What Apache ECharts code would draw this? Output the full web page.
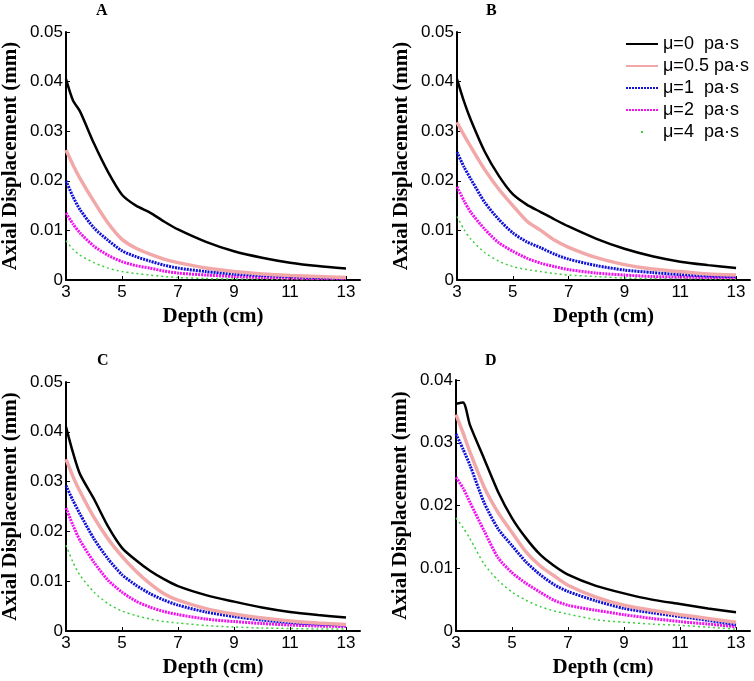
<!DOCTYPE html>
<html>
<head>
<meta charset="utf-8">
<script src="https://cdn.jsdelivr.net/npm/echarts@6/dist/echarts.min.js"></script>
<style>
html,body{margin:0;padding:0;background:#fff;}
#main{width:754px;height:681px;}
</style>
</head>
<body>
<div id="main"></div>
<script>
// depth samples (cm)
var depth = [3, 3.25, 3.5, 4, 4.5, 5, 5.5, 6, 6.5, 7, 8, 9, 10, 11, 12, 13];
var muNames = ['μ=0  pa·s', 'μ=0.5 pa·s', 'μ=1  pa·s', 'μ=2  pa·s', 'μ=4  pa·s'];
var panelLetters = ['A', 'B', 'C', 'D'];
var yMax = [0.05, 0.05, 0.05, 0.04];
var xTicks = [3, 5, 7, 9, 11, 13];

// panel A
var aMu0 = [0.0405, 0.0362, 0.0340, 0.0275, 0.0218, 0.0172, 0.0150, 0.0136, 0.0118, 0.0102, 0.0077, 0.0058, 0.0045, 0.0035, 0.0028, 0.0023];
var aMu05 = [0.0262, 0.0232, 0.0205, 0.0158, 0.0115, 0.0082, 0.0064, 0.0052, 0.0042, 0.0035, 0.0024, 0.0017, 0.0012, 0.0009, 0.0007, 0.0005];
var aMu1 = [0.0200, 0.0168, 0.0142, 0.0105, 0.0080, 0.0059, 0.0047, 0.0038, 0.0030, 0.0024, 0.0017, 0.0012, 0.0009, 0.0007, 0.0005, 0.0004];
var aMu2 = [0.0135, 0.0113, 0.0095, 0.0068, 0.0050, 0.0037, 0.0029, 0.0024, 0.0018, 0.0014, 0.0010, 0.0007, 0.0005, 0.0004, 0.0003, 0.0003];
var aMu4 = [0.0079, 0.0062, 0.0050, 0.0035, 0.0024, 0.0017, 0.0013, 0.0010, 0.0007, 0.0005, 0.0003, 0.0002, 0.0002, 0.0001, 0.0001, 0.0001];
// panel B
var bMu0 = [0.0405, 0.0360, 0.0322, 0.0258, 0.0210, 0.0173, 0.0152, 0.0137, 0.0122, 0.0108, 0.0083, 0.0063, 0.0048, 0.0037, 0.0030, 0.0024];
var bMu05 = [0.0318, 0.0292, 0.0268, 0.0222, 0.0183, 0.0150, 0.0119, 0.0100, 0.0080, 0.0066, 0.0045, 0.0031, 0.0022, 0.0017, 0.0012, 0.0010];
var bMu1 = [0.0258, 0.0228, 0.0203, 0.0156, 0.0122, 0.0095, 0.0077, 0.0065, 0.0052, 0.0042, 0.0029, 0.0020, 0.0015, 0.0011, 0.0008, 0.0007];
var bMu2 = [0.0188, 0.0160, 0.0136, 0.0102, 0.0075, 0.0058, 0.0044, 0.0034, 0.0027, 0.0021, 0.0014, 0.0010, 0.0007, 0.0006, 0.0005, 0.0005];
var bMu4 = [0.0128, 0.0102, 0.0082, 0.0055, 0.0038, 0.0027, 0.0021, 0.0017, 0.0013, 0.0010, 0.0007, 0.0004, 0.0003, 0.0003, 0.0002, 0.0002];
// panel C
var cMu0 = [0.0410, 0.0358, 0.0315, 0.0265, 0.0210, 0.0167, 0.0142, 0.0121, 0.0104, 0.0090, 0.0072, 0.0059, 0.0047, 0.0038, 0.0032, 0.0027];
var cMu05 = [0.0345, 0.0310, 0.0280, 0.0228, 0.0185, 0.0150, 0.0120, 0.0095, 0.0075, 0.0062, 0.0045, 0.0034, 0.0026, 0.0020, 0.0016, 0.0013];
var cMu1 = [0.0292, 0.0262, 0.0235, 0.0185, 0.0145, 0.0113, 0.0092, 0.0075, 0.0062, 0.0052, 0.0038, 0.0029, 0.0022, 0.0017, 0.0014, 0.0012];
var cMu2 = [0.0247, 0.0212, 0.0182, 0.0138, 0.0102, 0.0078, 0.0060, 0.0048, 0.0039, 0.0033, 0.0024, 0.0019, 0.0015, 0.0012, 0.0010, 0.0009];
var cMu4 = [0.0172, 0.0138, 0.0112, 0.0078, 0.0055, 0.0040, 0.0031, 0.0024, 0.0019, 0.0016, 0.0011, 0.0008, 0.0006, 0.0005, 0.0004, 0.0004];
// panel D
var dMu0 = [0.0362, 0.0364, 0.0328, 0.0275, 0.0222, 0.0180, 0.0148, 0.0122, 0.0104, 0.0090, 0.0072, 0.0060, 0.0050, 0.0043, 0.0036, 0.0030];
var dMu05 = [0.0345, 0.0316, 0.0285, 0.0230, 0.0189, 0.0157, 0.0126, 0.0104, 0.0088, 0.0073, 0.0054, 0.0041, 0.0033, 0.0026, 0.0020, 0.0014];
var dMu1 = [0.0314, 0.0290, 0.0264, 0.0205, 0.0163, 0.0136, 0.0110, 0.0090, 0.0074, 0.0063, 0.0048, 0.0036, 0.0029, 0.0023, 0.0017, 0.0010];
var dMu2 = [0.0245, 0.0228, 0.0205, 0.0160, 0.0117, 0.0093, 0.0076, 0.0062, 0.0049, 0.0041, 0.0033, 0.0026, 0.0020, 0.0015, 0.0011, 0.0007];
var dMu4 = [0.0180, 0.0165, 0.0147, 0.0107, 0.0081, 0.0062, 0.0049, 0.0039, 0.0032, 0.0027, 0.0018, 0.0014, 0.0011, 0.0009, 0.0006, 0.0003];

var panels = [
	[aMu0, aMu05, aMu1, aMu2, aMu4],
	[bMu0, bMu05, bMu1, bMu2, bMu4],
	[cMu0, cMu05, cMu1, cMu2, cMu4],
	[dMu0, dMu05, dMu1, dMu2, dMu4]
];

var lineStyles = [
	{color: '#000000', width: 2.5, type: 'solid'},
	{color: '#f2a8a8', width: 3.5, type: 'solid'},
	{color: '#1010d8', width: 3, type: [2, 1]},
	{color: '#f010f0', width: 3, type: [2, 1]},
	{color: '#3ccf3c', width: 1.5, type: [2, 3]}
];

var gridPos = [
	{left: 66, top: 32, width: 294, height: 248},
	{left: 457, top: 32, width: 293, height: 248},
	{left: 66, top: 382, width: 294, height: 249},
	{left: 456, top: 380, width: 294, height: 251}
];
var letterPos = [[96, 3], [486, 3], [97, 353], [485, 353]];

function pairs(ys) {
	var out = [];
	for (var i = 0; i < depth.length; i++) {
		out.push([depth[i], ys[i]]);
	}
	return out;
}

var grids = [], xAxes = [], yAxes = [], series = [], titles = [];
for (var p = 0; p < 4; p++) {
	var g = gridPos[p];
	grids.push({left: g.left, top: g.top, width: g.width, height: g.height, outerBoundsMode: 'none', containLabel: false});
	xAxes.push({
		type: 'value',
		gridIndex: p,
		min: 3,
		max: 13.5,
		name: 'Depth (cm)',
		nameLocation: 'middle',
		nameGap: 26,
		nameTextStyle: {fontFamily: 'Liberation Serif', fontWeight: 'bold', fontSize: 21, color: '#000', verticalAlign: 'top'},
		axisLine: {onZero: false, lineStyle: {color: '#000', width: 2}},
		axisTick: {inside: true, length: 4, lineStyle: {color: '#000', width: 1}, customValues: xTicks},
		axisLabel: {fontFamily: 'Liberation Sans', fontSize: 17, color: '#000', margin: 4, customValues: xTicks},
		splitLine: {show: false}
	});
	yAxes.push({
		type: 'value',
		gridIndex: p,
		min: 0,
		max: yMax[p],
		interval: 0.01,
		name: 'Axial Displacement (mm)',
		nameLocation: 'middle',
		nameGap: 45,
		nameTextStyle: {fontFamily: 'Liberation Serif', fontWeight: 'bold', fontSize: 21, color: '#000'},
		axisLine: {show: true, onZero: false, lineStyle: {color: '#000', width: 2}},
		axisTick: {show: true, inside: true, length: 4, lineStyle: {color: '#000', width: 1}},
		axisLabel: {
			fontFamily: 'Liberation Sans', fontSize: 17, color: '#000', margin: 3,
			formatter: function (v) { return v === 0 ? '0' : v.toFixed(2); }
		},
		splitLine: {show: false}
	});
	titles.push({
		text: panelLetters[p],
		left: letterPos[p][0],
		top: letterPos[p][1],
		padding: 0,
		textStyle: {fontFamily: 'Liberation Serif', fontWeight: 'bold', fontSize: 16, color: '#000'}
	});
	for (var s = 0; s < 5; s++) {
		series.push({
			name: muNames[s],
			type: 'line',
			xAxisIndex: p,
			yAxisIndex: p,
			data: pairs(panels[p][s]),
			symbol: 'none',
			smooth: 0.25,
			lineStyle: lineStyles[s],
			z: 10 - s,
			silent: true,
			animation: false
		});
	}
}

var myChart = echarts.init(document.getElementById('main'));
var option = {
	backgroundColor: '#fff',
	animation: false,
	title: titles,
	legend: {
		orient: 'vertical',
		left: 625,
		top: 35,
		padding: 0,
		itemGap: 4,
		itemWidth: 32,
		itemHeight: 14,
		selectedMode: false,
		itemStyle: {opacity: 0, borderWidth: 0},
		textStyle: {fontFamily: 'Liberation Sans', fontSize: 18, color: '#000', lineHeight: 18},
		data: [
			{name: muNames[0]},
			{name: muNames[1]},
			{name: muNames[2]},
			{name: muNames[3]},
			{name: muNames[4], lineStyle: {type: [2, 60], dashOffset: -15}}
		]
	},
	grid: grids,
	xAxis: xAxes,
	yAxis: yAxes,
	series: series
};
myChart.setOption(option);
</script>
</body>
</html>
